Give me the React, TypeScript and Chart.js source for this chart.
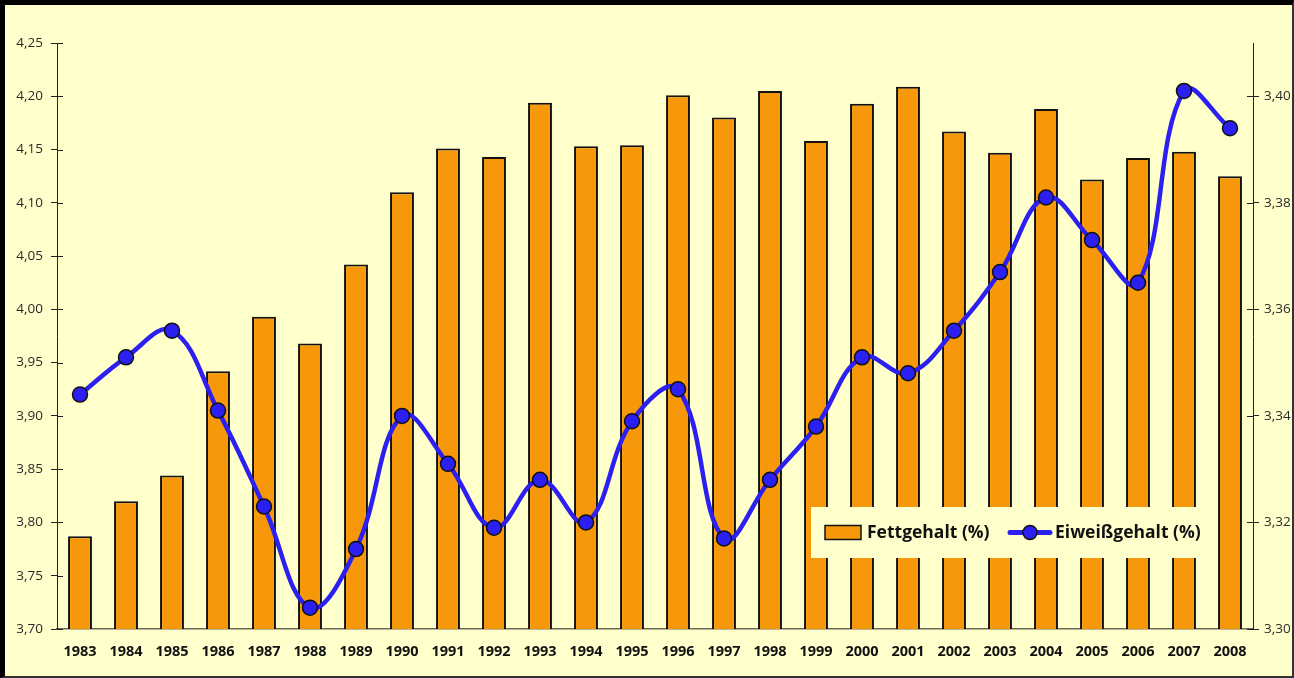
import React, { useEffect, useRef } from "react";
import { Chart, registerables } from "chart.js";

Chart.register(...registerables);

const years = ["1983","1984","1985","1986","1987","1988","1989","1990","1991","1992","1993","1994","1995","1996","1997","1998","1999","2000","2001","2002","2003","2004","2005","2006","2007","2008"];
const fettgehalt = [3.787,3.820,3.844,3.942,3.993,3.968,4.042,4.110,4.151,4.143,4.194,4.153,4.154,4.201,4.180,4.205,4.158,4.193,4.209,4.167,4.147,4.188,4.122,4.142,4.148,4.125];
const eiweissgehalt = [3.344,3.351,3.356,3.341,3.323,3.304,3.315,3.340,3.331,3.319,3.328,3.320,3.339,3.345,3.317,3.328,3.338,3.351,3.348,3.356,3.367,3.381,3.373,3.365,3.401,3.394];
const leftTicks = [3.70,3.75,3.80,3.85,3.90,3.95,4.00,4.05,4.10,4.15,4.20,4.25];
const rightTicks = [3.30,3.32,3.34,3.36,3.38,3.40];
const seriesLabels = ["Fettgehalt (%)", "Eiweißgehalt (%)"];

const FONT = "'Open Sans', 'Noto Sans', sans-serif";
const BG = "#FFFFCC";
const BAR = "#F7980A";
const LINE = "#2B1FF2";

const fmt = (v: number) => v.toFixed(2).replace(".", ",");

const innerTicks = {
  id: "innerTicks",
  afterDraw(chart: any) {
    const ctx = chart.ctx;
    ctx.save();
    ctx.strokeStyle = "#222";
    ctx.lineWidth = 1;
    for (const id of ["y", "y1"]) {
      const s = chart.scales[id];
      const x = id === "y" ? s.right : s.left;
      const dir = id === "y" ? 1 : -1;
      s.ticks.forEach((t: any) => {
        const y = Math.round(s.getPixelForValue(t.value)) + 0.5;
        ctx.beginPath();
        ctx.moveTo(x, y);
        ctx.lineTo(x + dir * 6, y);
        ctx.stroke();
      });
    }
    ctx.restore();
  },
};

const boxLegend = {
  id: "boxLegend",
  afterDraw(chart: any) {
    const ctx = chart.ctx;
    const a = chart.chartArea;
    const right = a.right - 35;
    const bottom = a.bottom - 71;
    const w = 407, h = 51;
    const left = right - w, top = bottom - h;
    ctx.save();
    ctx.fillStyle = BG;
    ctx.fillRect(left, top, w, h);
    const cy = top + h / 2;
    ctx.fillStyle = BAR;
    ctx.strokeStyle = "#111";
    ctx.lineWidth = 1.5;
    ctx.fillRect(left + 14, cy - 7, 36, 14);
    ctx.strokeRect(left + 14, cy - 7, 36, 14);
    ctx.font = `bold 17.5px ${FONT}`;
    ctx.fillStyle = "#111";
    ctx.textBaseline = "middle";
    ctx.textAlign = "left";
    ctx.fillText(seriesLabels[0], left + 56, cy + 1);
    const lx = left + 199;
    ctx.strokeStyle = LINE;
    ctx.lineWidth = 5;
    ctx.lineCap = "round";
    ctx.beginPath();
    ctx.moveTo(lx, cy);
    ctx.lineTo(lx + 40, cy);
    ctx.stroke();
    ctx.beginPath();
    ctx.arc(lx + 20, cy, 7, 0, Math.PI * 2);
    ctx.fillStyle = LINE;
    ctx.fill();
    ctx.lineWidth = 1.5;
    ctx.strokeStyle = "#111";
    ctx.stroke();
    ctx.fillStyle = "#111";
    ctx.fillText(seriesLabels[1], lx + 45, cy + 1);
    ctx.restore();
  },
};

export default function App() {
  const ref = useRef<HTMLCanvasElement | null>(null);

  useEffect(() => {
    document.body.style.margin = "0";
    const canvas = ref.current;
    if (!canvas) return;
    const chart = new Chart(canvas, {
      type: "bar",
      data: {
        labels: years,
        datasets: [
          {
            type: "line",
            label: seriesLabels[1],
            data: eiweissgehalt,
            yAxisID: "y1",
            borderColor: LINE,
            backgroundColor: LINE,
            borderWidth: 4.5,
            tension: 0.4,
            pointRadius: 7.5,
            pointBackgroundColor: LINE,
            pointBorderColor: "#111",
            pointBorderWidth: 1.5,
            order: 1,
          } as any,
          {
            type: "bar",
            label: seriesLabels[0],
            data: fettgehalt,
            yAxisID: "y",
            backgroundColor: BAR,
            borderColor: "#111",
            borderWidth: 2,
            categoryPercentage: 1,
            barPercentage: 0.52,
            order: 2,
          } as any,
        ],
      },
      options: {
        animation: false,
        responsive: false,
        maintainAspectRatio: false,
        layout: { padding: { top: 38, left: 0, right: 0, bottom: 0 } },
        plugins: { legend: { display: false }, tooltip: { enabled: false } },
        scales: {
          x: {
            grid: { display: false, drawTicks: false },
            border: { display: true, color: "#6b6b55", width: 1.5 },
            ticks: { font: { family: FONT, size: 14.5, weight: "bold" }, color: "#111", padding: 14, maxRotation: 0, autoSkip: false },
            afterFit: (s: any) => { s.height = 47; },
          },
          y: {
            position: "left",
            min: 3.7,
            max: 4.25,
            grid: { drawOnChartArea: false, drawTicks: true, tickLength: 6, color: "#222" },
            border: { display: true, color: "#222", width: 1 },
            ticks: { stepSize: 0.05, padding: 8, font: { family: FONT, size: 13.5 }, color: "#2a2a2a", callback: (v: any) => fmt(Number(v)) },
            afterBuildTicks: (s: any) => { s.ticks = leftTicks.map((v) => ({ value: v })); },
            afterFit: (s: any) => { s.width = 52; },
          },
          y1: {
            position: "right",
            min: 3.3,
            max: 3.41,
            grid: { drawOnChartArea: false, drawTicks: true, tickLength: 6, color: "#222" },
            border: { display: true, color: "#222", width: 1 },
            ticks: { stepSize: 0.02, padding: 5, font: { family: FONT, size: 13.5 }, color: "#2a2a2a", callback: (v: any) => fmt(Number(v)) },
            afterBuildTicks: (s: any) => { s.ticks = rightTicks.map((v) => ({ value: v })); },
            afterFit: (s: any) => { s.width = 39; },
          },
        },
      } as any,
      plugins: [innerTicks, boxLegend],
    });
    return () => chart.destroy();
  }, []);

  return (
    <div
      style={{
        position: "relative",
        width: 1294,
        height: 678,
        boxSizing: "border-box",
        borderTop: "5px solid #000",
        borderLeft: "5px solid #000",
        borderRight: "2px solid #333",
        borderBottom: "2px solid #333",
        background: BG,
      }}
    >
      <canvas ref={ref} width={1287} height={671} style={{ display: "block", width: 1287, height: 671 }} />
    </div>
  );
}
